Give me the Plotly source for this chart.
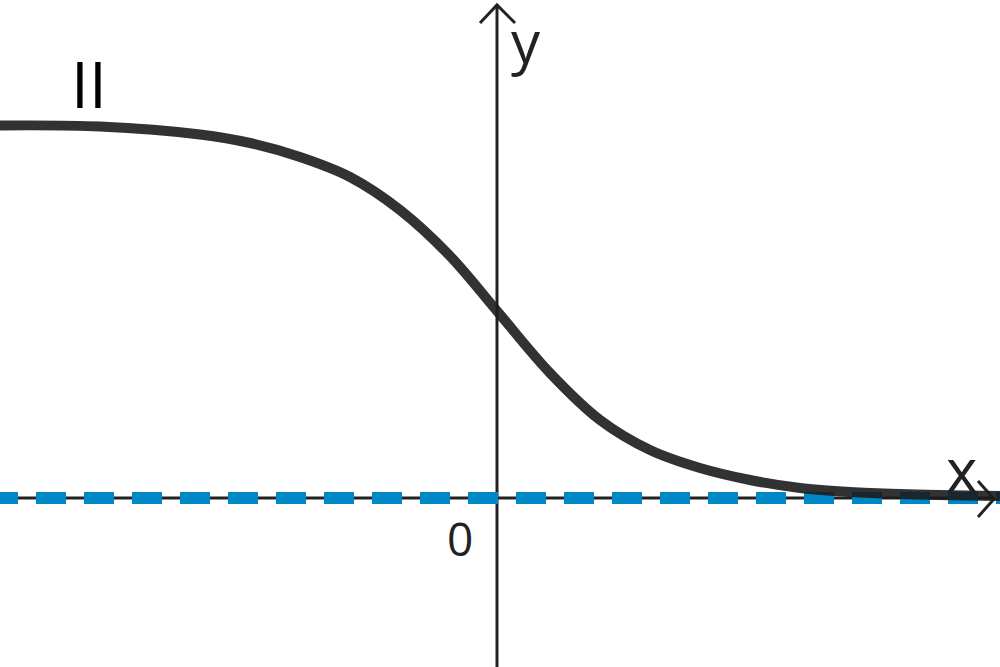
import plotly.graph_objects as go

# curve (1 unit = 100 px, origin at the axes crossing)
curve_x = [-4.97, -3.97, -2.97, -2.47, -1.97, -1.47, -0.97, -0.47, 0.0,
           0.53, 1.03, 1.53, 2.03, 2.53, 3.03, 3.53, 4.03, 5.03]
curve_y = [3.725, 3.715, 3.635, 3.55, 3.41, 3.21, 2.88, 2.42, 1.87,
           1.25, 0.78, 0.48, 0.30, 0.18, 0.10, 0.06, 0.04, 0.02]

# horizontal asymptote y = 0
asym_x = [-5.09, 5.2]
asym_y = [0, 0]

curve_label = "II"
x_label = "x"
y_label = "y"
origin_label = "0"

fig = go.Figure()

fig.add_trace(go.Scatter(
    x=asym_x, y=asym_y, mode="lines",
    line=dict(color="#0088c6", width=12, dash="30px,18px"),
    hoverinfo="skip",
))
fig.add_trace(go.Scatter(
    x=curve_x, y=curve_y, mode="lines",
    line=dict(color="rgba(28,28,28,0.9)", width=10, shape="spline", smoothing=1.0),
    hoverinfo="skip",
))

axis_col = "#222222"
# axes with open arrow heads
fig.add_shape(type="line", x0=-5.1, y0=0, x1=4.97, y1=0,
              line=dict(color=axis_col, width=3), layer="below")
fig.add_shape(type="line", x0=0, y0=-1.8, x1=0, y1=4.93,
              line=dict(color=axis_col, width=3), layer="below")
fig.add_shape(type="path", path="M -0.17,4.75 L 0,4.93 L 0.18,4.75",
              line=dict(color=axis_col, width=3), layer="below")
fig.add_shape(type="path", path="M 4.81,0.17 L 4.97,-0.01 L 4.81,-0.19",
              line=dict(color=axis_col, width=3), layer="below")

font_fam = "Open Sans"
fig.add_annotation(x=0.29, y=4.575, text=y_label, showarrow=False,
                   font=dict(family=font_fam, size=58, color=axis_col))
fig.add_annotation(x=4.64, y=0.29, text=x_label, showarrow=False,
                   font=dict(family=font_fam, size=60, color=axis_col))
fig.add_annotation(x=-0.37, y=-0.40, text=origin_label, showarrow=False,
                   font=dict(family=font_fam, size=46, color=axis_col))
fig.add_annotation(x=-4.08, y=4.15, text=curve_label, showarrow=False,
                   font=dict(family=font_fam, size=64, color="#000000"))

fig.update_xaxes(range=[-4.97, 5.03], visible=False, fixedrange=True)
fig.update_yaxes(range=[-1.69, 4.98], visible=False, fixedrange=True)
fig.update_layout(
    width=1000, height=667,
    margin=dict(l=0, r=0, t=0, b=0),
    paper_bgcolor="white", plot_bgcolor="white",
    showlegend=False,
)

fig.write_html("out.html", config={"displayModeBar": False})

# drop the browser's default body margin so the figure sits at the page corner
with open("out.html", encoding="utf-8") as f:
    page = f.read()
page = page.replace("<body>", '<body style="margin:0">', 1)
with open("out.html", "w", encoding="utf-8") as f:
    f.write(page)
